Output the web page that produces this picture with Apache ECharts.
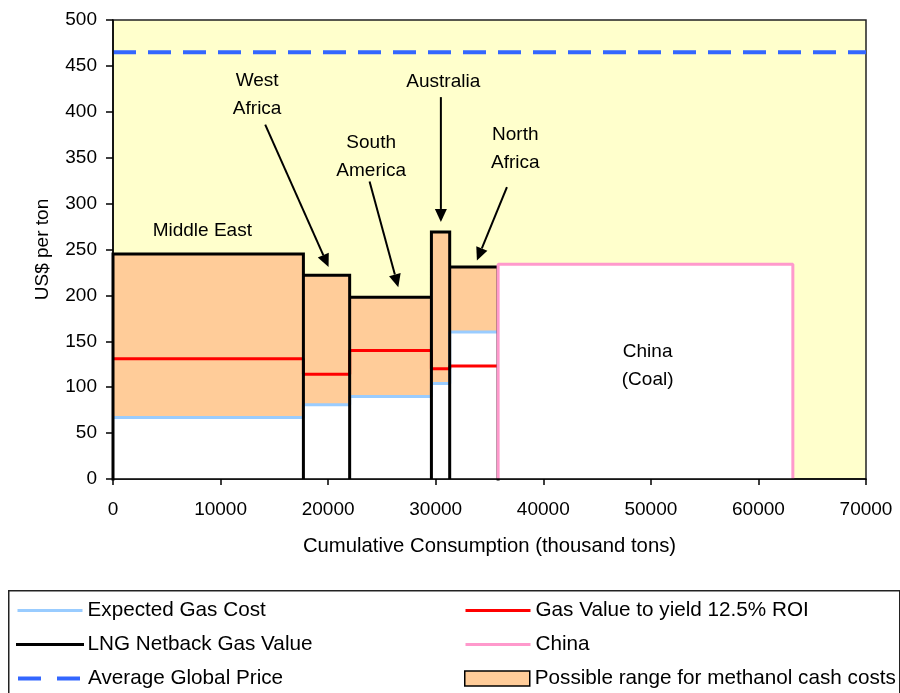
<!DOCTYPE html>
<html>
<head>
<meta charset="utf-8">
<script src="https://cdn.jsdelivr.net/npm/echarts@6/dist/echarts.min.js"></script>
<style>
  html, body { margin: 0; padding: 0; background: #ffffff; }
  #chart { width: 900px; height: 693px; }
</style>
</head>
<body>
<div id="chart"></div>
<script>
// ---- Data ----
const regionNames = ['Middle East', 'West Africa', 'South America', 'Australia', 'North Africa'];
const segmentStart = [0, 17700, 22000, 29600, 31300];      // cumulative consumption (thousand tons)
const segmentEnd = [17700, 22000, 29600, 31300, 35800];
const expectedGasCost = [67, 81, 90, 104, 160];            // US$ per ton
const roiGasValue = [131, 114, 140, 120, 123];             // Gas value to yield 12.5% ROI
const lngNetbackValue = [245, 222, 198, 269, 231];         // LNG netback gas value
const chinaRange = [35800, 63200];
const chinaCoalCost = 234;
const averageGlobalPrice = 465;
const xRange = [0, 70000];

// annotations (data coordinates)
const annotationText = ['Middle East', 'West\nAfrica', 'South\nAmerica', 'Australia', 'North\nAfrica', 'China\n(Coal)'];
const annotationX = [8300, 13400, 24000, 30700, 37400, 49700];
const annotationY = [270, 419, 351, 433, 360, 123];
const arrowStart = [null, [14150, 386], [23850, 324], [30480, 416], [36620, 318], null];
const arrowEnd = [null, [20040, 231], [26520, 209], [30480, 280], [33830, 238], null];

// legend layout: [name, column, row]
const legendItems = [
  ['Expected Gas Cost', 0, 0],
  ['LNG Netback Gas Value', 0, 1],
  ['Average Global Price', 0, 2],
  ['Gas Value to yield 12.5% ROI', 1, 0],
  ['China', 1, 1],
  ['Possible range for methanol cash costs', 1, 2]
];

// ---- Build series data from the arrays ----
const fillData = regionNames.map((n, i) => [segmentStart[i], segmentEnd[i], expectedGasCost[i], lngNetbackValue[i]]);
const blueData = [], redData = [], blackData = [[segmentStart[0], 0]];
regionNames.forEach((n, i) => {
  blueData.push([segmentStart[i], expectedGasCost[i]], [segmentEnd[i], expectedGasCost[i]]);
  redData.push([segmentStart[i], roiGasValue[i]], [segmentEnd[i], roiGasValue[i]]);
  blackData.push([segmentStart[i], lngNetbackValue[i]], [segmentEnd[i], lngNetbackValue[i]], [segmentEnd[i], 0]);
});
const chinaData = [[chinaRange[0], 0], [chinaRange[0], chinaCoalCost], [chinaRange[1], chinaCoalCost], [chinaRange[1], 0]];
const avgData = [[xRange[0], averageGlobalPrice], [xRange[1], averageGlobalPrice]];
const annotationData = annotationText.map((t, i) => [annotationX[i], annotationY[i]]);

const FONT = 'Liberation Sans, Arial, sans-serif';
const ORANGE = '#FFCC99';

function renderFill(params, api) {
  const x0 = api.value(0), x1 = api.value(1), lo = api.value(2), hi = api.value(3);
  const a = api.coord([x0, 0]), b = api.coord([x1, lo]), c = api.coord([x1, hi]);
  return {
    type: 'group',
    children: [
      { type: 'rect', shape: { x: a[0], y: b[1], width: b[0] - a[0], height: a[1] - b[1] }, style: { fill: '#ffffff' } },
      { type: 'rect', shape: { x: a[0], y: c[1], width: c[0] - a[0], height: b[1] - c[1] }, style: { fill: ORANGE } }
    ]
  };
}

function renderAnnotation(params, api) {
  const i = params.dataIndex;
  const p = api.coord([api.value(0), api.value(1)]);
  const children = [{
    type: 'text',
    x: p[0], y: p[1],
    style: { text: annotationText[i], fill: '#000', font: '19px ' + FONT, align: 'center', verticalAlign: 'middle', lineHeight: 28 }
  }];
  if (arrowStart[i]) {
    const s = api.coord(arrowStart[i]), e = api.coord(arrowEnd[i]);
    const dx = e[0] - s[0], dy = e[1] - s[1];
    const len = Math.sqrt(dx * dx + dy * dy);
    const ux = dx / len, uy = dy / len;
    const headLen = 13, headHalf = 6;
    const bx = e[0] - ux * headLen, by = e[1] - uy * headLen;
    const nx = -uy, ny = ux;
    children.push({ type: 'line', shape: { x1: s[0], y1: s[1], x2: bx, y2: by }, style: { stroke: '#000', lineWidth: 2 } });
    children.push({ type: 'polygon', shape: { points: [[e[0], e[1]], [bx + nx * headHalf, by + ny * headHalf], [bx - nx * headHalf, by - ny * headHalf]] }, style: { fill: '#000' } });
  }
  return { type: 'group', children: children };
}

const legendLeft = [11, 459];
const legendRowCenter = [609, 643, 677];
const legendLine = {
  'Expected Gas Cost': { color: '#99CCFF', width: 3 },
  'LNG Netback Gas Value': { color: '#000000', width: 3 },
  'Average Global Price': { color: '#3366FF', width: 4, type: [23, 16] },
  'Gas Value to yield 12.5% ROI': { color: '#FF0000', width: 3 },
  'China': { color: '#FF99CC', width: 3 }
};
const legends = legendItems.map(([name, col, row]) => {
  const isRect = name === 'Possible range for methanol cash costs';
  const item = isRect
    ? { name: name, icon: 'rect', itemStyle: { color: ORANGE, borderColor: '#000', borderWidth: 1.5 } }
    : { name: name, itemStyle: { opacity: 0, color: 'rgba(0,0,0,0)', borderWidth: 0 }, lineStyle: legendLine[name] };
  return {
    orient: 'horizontal', left: legendLeft[col], top: legendRowCenter[row] - 14,
    itemWidth: 65, itemHeight: isRect ? 15 : 14, itemGap: 10, selectedMode: false,
    textStyle: { fontSize: 20.7, color: '#000', fontFamily: FONT },
    data: [item]
  };
});

const chart = echarts.init(document.getElementById('chart'), null, { renderer: 'canvas' });
chart.setOption({
  animation: false,
  textStyle: { fontFamily: FONT, color: '#000' },
  grid: { left: 113, right: 34, top: 20, bottom: 214, show: true, backgroundColor: '#FFFFCC', borderColor: '#222', borderWidth: 1.5 },
  xAxis: {
    type: 'value', min: xRange[0], max: xRange[1], interval: 10000, z: 10,
    name: 'Cumulative Consumption (thousand tons)', nameLocation: 'middle', nameGap: 57,
    nameTextStyle: { fontSize: 20.3, color: '#000', fontFamily: FONT },
    axisLine: { show: true, onZero: false, lineStyle: { color: '#000', width: 1.5 } },
    axisTick: { show: true, length: 6, lineStyle: { color: '#000', width: 1.5 } },
    axisLabel: { fontSize: 19, margin: 21, color: '#000', fontFamily: FONT, formatter: v => String(v) },
    splitLine: { show: false }
  },
  yAxis: {
    type: 'value', min: 0, max: 500, interval: 50, z: 10,
    name: 'US$ per ton', nameLocation: 'middle', nameGap: 61,
    nameTextStyle: { fontSize: 19, color: '#000', fontFamily: FONT },
    axisLine: { show: true, onZero: false, lineStyle: { color: '#000', width: 1.5 } },
    axisTick: { show: true, length: 7, lineStyle: { color: '#000', width: 1.5 } },
    axisLabel: { fontSize: 19, margin: 16, color: '#000', fontFamily: FONT, formatter: v => String(v) },
    splitLine: { show: false }
  },
  legend: legends,
  graphic: [{
    type: 'rect', left: 8, top: 590, z: -1,
    shape: { width: 891, height: 120 },
    style: { fill: '#ffffff', stroke: '#222', lineWidth: 1.5 }
  }],
  series: [
    {
      name: 'Possible range for methanol cash costs', type: 'custom', z: 2,
      renderItem: renderFill, data: fillData, encode: { x: [0, 1], y: [2, 3] },
      itemStyle: { color: ORANGE, borderColor: '#000', borderWidth: 1.5 }, silent: true
    },
    {
      name: 'Expected Gas Cost', type: 'line', z: 3, data: blueData, symbol: 'none', showSymbol: false,
      lineStyle: { color: '#99CCFF', width: 3 }, itemStyle: { color: '#99CCFF' }, silent: true
    },
    {
      name: 'Gas Value to yield 12.5% ROI', type: 'line', z: 3, data: redData, symbol: 'none', showSymbol: false,
      lineStyle: { color: '#FF0000', width: 3 }, itemStyle: { color: '#FF0000' }, silent: true
    },
    {
      name: 'LNG Netback Gas Value', type: 'line', z: 4, data: blackData, symbol: 'none', showSymbol: false, clip: false,
      lineStyle: { color: '#000000', width: 3, join: 'miter', cap: 'square' }, itemStyle: { color: '#000' }, silent: true
    },
    {
      name: 'China', type: 'line', z: 5, data: chinaData, symbol: 'none', showSymbol: false,
      lineStyle: { color: '#FF99CC', width: 3 }, itemStyle: { color: '#FF99CC' },
      areaStyle: { color: '#ffffff', opacity: 1, origin: 'start' }, silent: true
    },
    {
      name: 'Average Global Price', type: 'line', z: 6, data: avgData, symbol: 'none', showSymbol: false,
      lineStyle: { color: '#3366FF', width: 4, type: [23, 12] }, itemStyle: { color: '#3366FF' }, silent: true
    },
    {
      name: 'annotations', type: 'custom', z: 7, renderItem: renderAnnotation, data: annotationData,
      encode: { x: 0, y: 1 }, silent: true
    }
  ]
});
</script>
</body>
</html>
